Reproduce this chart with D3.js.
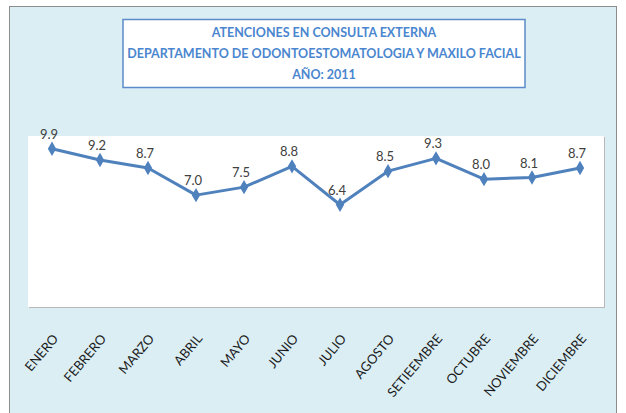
<!DOCTYPE html>
<html>
<head>
<meta charset="utf-8">
<title>Atenciones en consulta externa 2011</title>
<script src="https://d3js.org/d3.v7.min.js"></script>
<style>
  body { margin: 0; background: #ffffff; }
  svg { display: block; font-family: Lato, "Open Sans", sans-serif; }
</style>
</head>
<body>
<svg id="chart" width="626" height="413"></svg>
<script>
// data
var months = ["ENERO", "FEBRERO", "MARZO", "ABRIL", "MAYO", "JUNIO", "JULIO",
              "AGOSTO", "SETIEEMBRE", "OCTUBRE", "NOVIEMBRE", "DICIEMBRE"];
var values = [9.9, 9.2, 8.7, 7.0, 7.5, 8.8, 6.4, 8.5, 9.3, 8.0, 8.1, 8.7];
var titleLines = ["ATENCIONES EN CONSULTA EXTERNA",
                  "DEPARTAMENTO DE ODONTOESTOMATOLOGIA Y MAXILO FACIAL",
                  "AÑO: 2011"];

var svg = d3.select("#chart");

/* outer chart frame */
svg.append("rect")
  .attr("x", 9.5).attr("y", 6.5)
  .attr("width", 607).attr("height", 420)
  .attr("fill", "#dbeef4")
  .attr("stroke", "#8c8c8c");

/* title box */
svg.append("rect")
  .attr("x", 123).attr("y", 19.5)
  .attr("width", 402).attr("height", 68)
  .attr("fill", "#ffffff")
  .attr("stroke", "#5b8bc9")
  .attr("stroke-width", 1.5);

svg.selectAll("text.title")
  .data(titleLines)
  .enter().append("text")
  .attr("class", "title")
  .attr("x", 324)
  .attr("y", function (d, i) { return 37 + i * 21; })
  .attr("text-anchor", "middle")
  .style("font-size", "12.5px")
  .style("font-weight", "bold")
  .style("fill", "#4a86cf")
  .text(function (d) { return d; });

/* plot area */
var pLeft = 28, pRight = 604, pTop = 136, pBottom = 307;

svg.append("rect")
  .attr("x", pLeft + 1).attr("y", pTop + 1)
  .attr("width", pRight - pLeft).attr("height", pBottom - pTop)
  .attr("fill", "#b8b8b8");
svg.append("rect")
  .attr("x", pLeft).attr("y", pTop)
  .attr("width", pRight - pLeft).attr("height", pBottom - pTop)
  .attr("fill", "#ffffff");

var x = d3.scaleBand().domain(months).range([pLeft, pRight]);
var y = d3.scaleLinear().domain([0, 10.7]).range([pBottom, pTop]);

var line = d3.line()
  .x(function (d, i) { return x(months[i]) + x.bandwidth() / 2; })
  .y(function (d) { return y(d); });

svg.append("path")
  .datum(values)
  .attr("d", line)
  .attr("fill", "none")
  .attr("stroke", "#4f81bd")
  .attr("stroke-width", 3)
  .attr("stroke-linejoin", "round");

svg.selectAll("path.marker")
  .data(values)
  .enter().append("path")
  .attr("class", "marker")
  .attr("d", d3.symbol().type(d3.symbolDiamond).size(60))
  .attr("transform", function (d, i) {
    return "translate(" + (x(months[i]) + x.bandwidth() / 2) + "," + y(d) + ")";
  })
  .attr("fill", "#4f81bd");

/* data labels */
svg.selectAll("text.val")
  .data(values)
  .enter().append("text")
  .attr("class", "val")
  .attr("x", function (d, i) { return x(months[i]) + x.bandwidth() / 2 - 3; })
  .attr("y", function (d) { return y(d) - 10; })
  .attr("text-anchor", "middle")
  .style("font-size", "13px")
  .style("fill", "#404040")
  .text(function (d) { return d3.format(".1f")(d); });

/* category axis, rotated labels */
var xAxis = svg.append("g")
  .attr("transform", "translate(0," + pBottom + ")")
  .call(d3.axisBottom(x).tickSize(0).tickPadding(0));
xAxis.select(".domain").remove();
xAxis.selectAll("text")
  .attr("text-anchor", "end")
  .attr("dy", null)
  .attr("y", 0)
  .attr("transform", "translate(7,32) rotate(-50)")
  .style("font-family", "Lato, 'Open Sans', sans-serif")
  .style("font-size", "13px")
  .style("fill", "#1a1a1a");
</script>
</body>
</html>
